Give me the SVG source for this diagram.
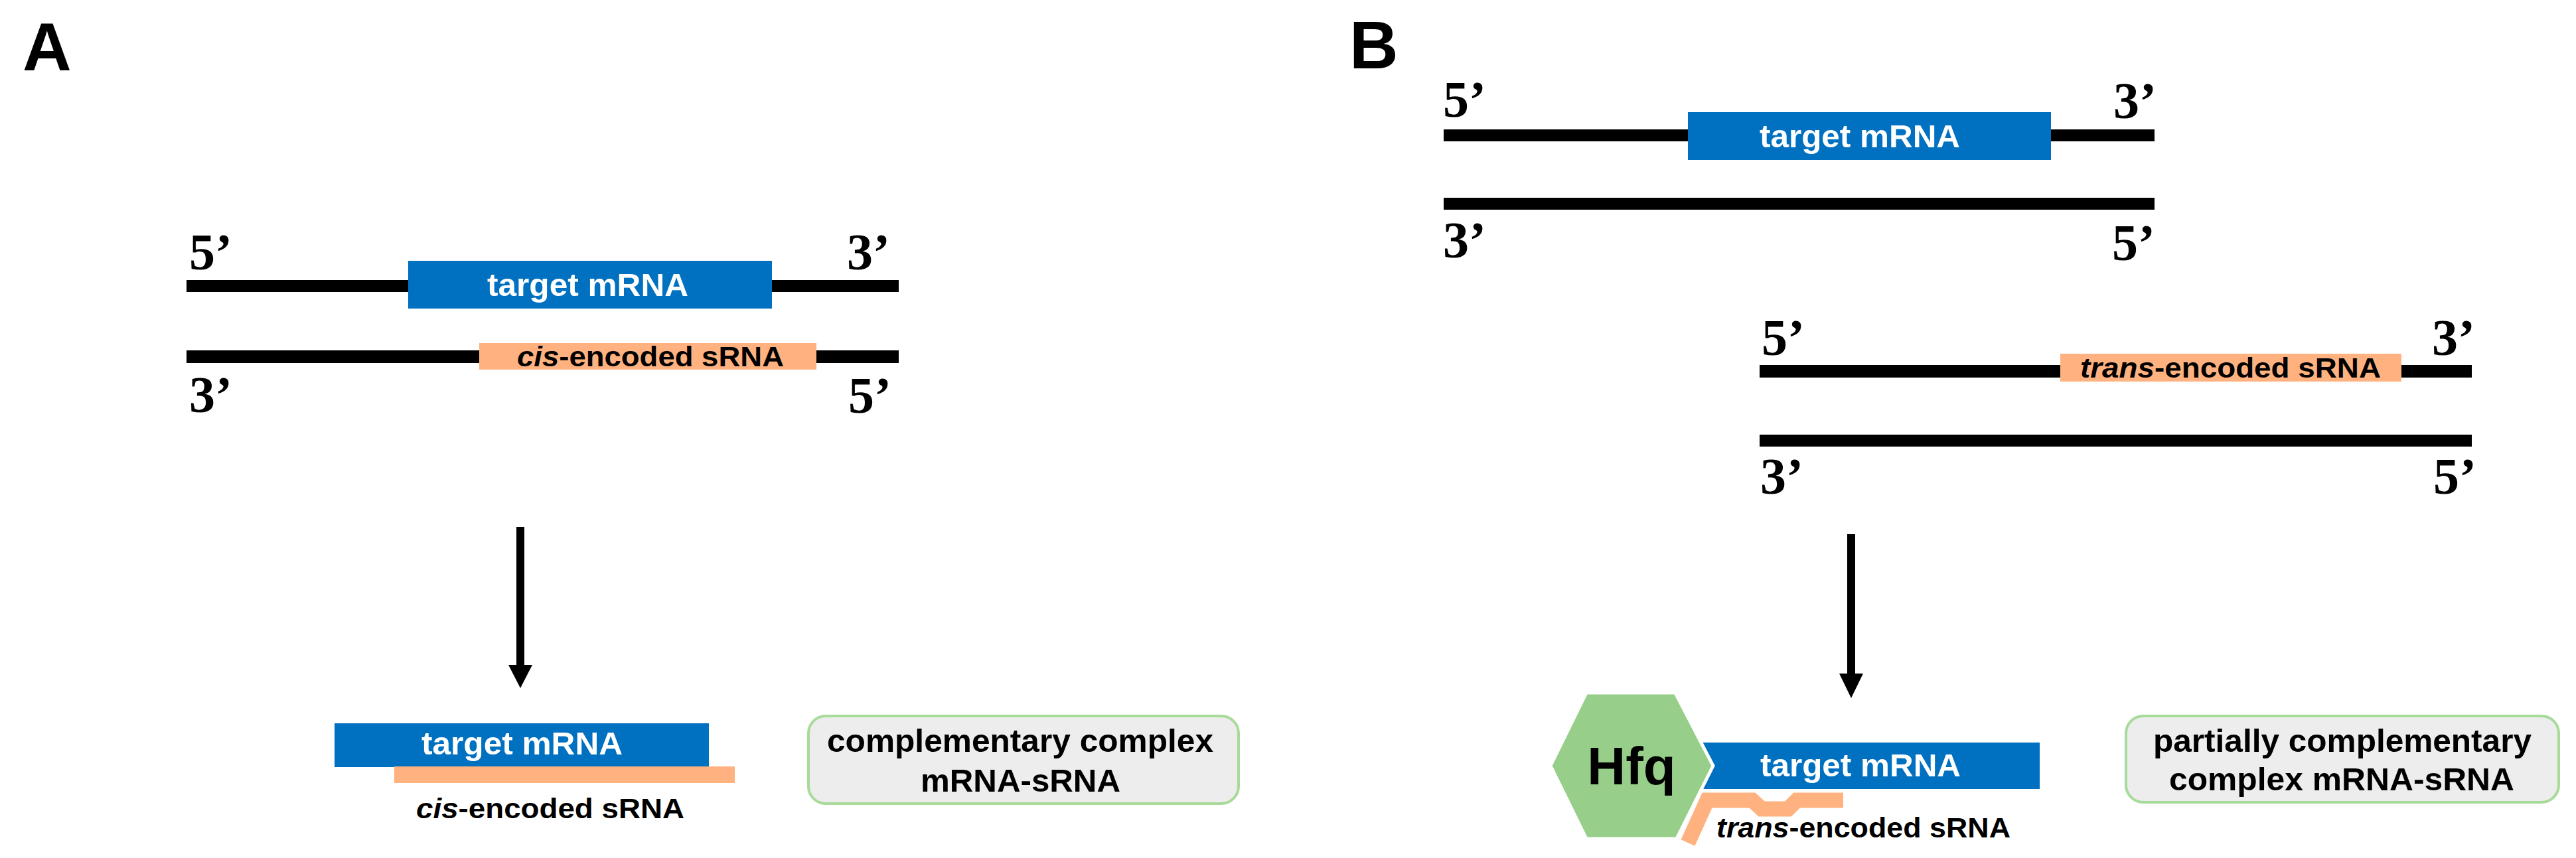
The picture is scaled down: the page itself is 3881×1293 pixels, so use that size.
<svg xmlns="http://www.w3.org/2000/svg" width="3881" height="1293" viewBox="0 0 3881 1293">
<style>
.bg{fill:#ffffff}
.strand{fill:#000000}
.mrna{fill:#0070C0}
.srna{fill:#FFB27F}
.panel{font-family:"Liberation Sans",Arial,sans-serif;font-weight:bold;font-size:102px;fill:#000}
.end{font-family:"Liberation Serif","Times New Roman",serif;font-weight:bold;font-size:78px;fill:#000}
.lblw{font-family:"Liberation Sans",Arial,sans-serif;font-weight:bold;font-size:49px;fill:#ffffff}
.lbls{font-family:"Liberation Sans",Arial,sans-serif;font-weight:bold;font-size:42px;fill:#000}
.note{fill:#EDEDED;stroke:#A8DA9A;stroke-width:4}
.notet{font-family:"Liberation Sans",Arial,sans-serif;font-weight:bold;font-size:48px;fill:#000}
.hfq{fill:#97CF8A;stroke:#ffffff;stroke-width:5}
.hfqt{font-family:"Liberation Sans",Arial,sans-serif;font-weight:bold;font-size:80px;fill:#000}
.arrow{stroke:#000;stroke-width:12;fill:none}
.head{fill:#000}
</style>
<rect class="bg" x="0" y="0" width="3881" height="1293"/>

<g id="panel-labels">
<text class="panel" x="34" y="106">A</text>
<text class="panel" x="2033" y="103">B</text>
</g>

<g id="A-target-strand">
<rect class="strand" x="281" y="422" width="334" height="18"/>
<rect class="strand" x="1163" y="422" width="191" height="18"/>
<rect class="mrna" x="615" y="393" width="548" height="72"/>
<text class="lblw" x="734" y="446" textLength="303" lengthAdjust="spacingAndGlyphs">target mRNA</text>
<text class="end" x="285" y="406">5’</text>
<text class="end" x="1276" y="406">3’</text>
</g>

<g id="A-cis-strand">
<rect class="strand" x="281" y="528" width="441" height="19"/>
<rect class="strand" x="1230" y="528" width="124" height="19"/>
<rect class="srna" x="722" y="517" width="508" height="40"/>
<text class="lbls" x="779" y="552" textLength="402" lengthAdjust="spacingAndGlyphs"><tspan font-style="italic">cis</tspan>-encoded sRNA</text>
<text class="end" x="285" y="621">3’</text>
<text class="end" x="1278" y="622">5’</text>
</g>

<g id="A-complex">
<rect class="mrna" x="504" y="1090" width="564" height="66"/>
<rect class="srna" x="594" y="1155" width="513" height="25"/>
<text class="lblw" x="635" y="1137" textLength="303" lengthAdjust="spacingAndGlyphs">target mRNA</text>
<text class="lbls" x="627" y="1233" textLength="404" lengthAdjust="spacingAndGlyphs"><tspan font-style="italic">cis</tspan>-encoded sRNA</text>
</g>

<g id="A-note">
<rect class="note" x="1218" y="1079" width="648" height="132" rx="26" ry="26"/>
<text class="notet" x="1246" y="1133" textLength="582" lengthAdjust="spacingAndGlyphs">complementary complex</text>
<text class="notet" x="1387" y="1193" textLength="301" lengthAdjust="spacingAndGlyphs">mRNA-sRNA</text>
</g>

<g id="B-target-strand">
<rect class="strand" x="2175" y="195" width="368" height="18"/>
<rect class="strand" x="3090" y="195" width="156" height="18"/>
<rect class="mrna" x="2543" y="169" width="547" height="72"/>
<text class="lblw" x="2651" y="222" textLength="302" lengthAdjust="spacingAndGlyphs">target mRNA</text>
<text class="end" x="2174" y="176">5’</text>
<text class="end" x="3184" y="178">3’</text>
</g>

<g id="B-target-complement">
<rect class="strand" x="2175" y="298" width="1071" height="18"/>
<text class="end" x="2174" y="388">3’</text>
<text class="end" x="3182" y="392">5’</text>
</g>

<g id="B-trans-strand">
<rect class="strand" x="2651" y="550" width="453" height="19"/>
<rect class="strand" x="3618" y="550" width="106" height="19"/>
<rect class="srna" x="3104" y="533" width="514" height="42"/>
<text class="lbls" x="3134" y="569" textLength="453" lengthAdjust="spacingAndGlyphs"><tspan font-style="italic">trans</tspan>-encoded sRNA</text>
<text class="end" x="2654" y="535">5’</text>
<text class="end" x="3664" y="535">3’</text>
</g>

<g id="B-trans-complement">
<rect class="strand" x="2651" y="655" width="1073" height="18"/>
<text class="end" x="2652" y="744">3’</text>
<text class="end" x="3666" y="744">5’</text>
</g>

<g id="B-complex">
<rect class="mrna" x="2563" y="1119" width="510" height="70"/>
<polyline points="2543,1270 2572,1206 2640,1206 2654,1219 2694,1219 2707,1206 2777,1206" fill="none" stroke="#FFB27F" stroke-width="23" stroke-linejoin="miter"/>
<text class="lblw" x="2652" y="1170" textLength="302" lengthAdjust="spacingAndGlyphs">target mRNA</text>
<text class="lbls" x="2586" y="1262" textLength="443" lengthAdjust="spacingAndGlyphs"><tspan font-style="italic">trans</tspan>-encoded sRNA</text>
</g>

<g id="B-hfq">
<polygon class="hfq" points="2336,1154 2390,1044 2524,1044 2581,1154 2526,1264 2390,1264"/>
<text class="hfqt" x="2458" y="1182" text-anchor="middle">Hfq</text>
</g>

<g id="B-note">
<rect class="note" x="3203" y="1079" width="652" height="130" rx="26" ry="26"/>
<text class="notet" x="3244" y="1133" textLength="570" lengthAdjust="spacingAndGlyphs">partially complementary</text>
<text class="notet" x="3268" y="1191" textLength="520" lengthAdjust="spacingAndGlyphs">complex mRNA-sRNA</text>
</g>

<g id="connectors">
<line class="arrow" x1="784" y1="794" x2="784" y2="1005"/>
<polygon class="head" points="766,1002 802,1002 784,1037"/>
<line class="arrow" x1="2789" y1="805" x2="2789" y2="1018"/>
<polygon class="head" points="2771,1015 2807,1015 2789,1052"/>
</g>
</svg>
